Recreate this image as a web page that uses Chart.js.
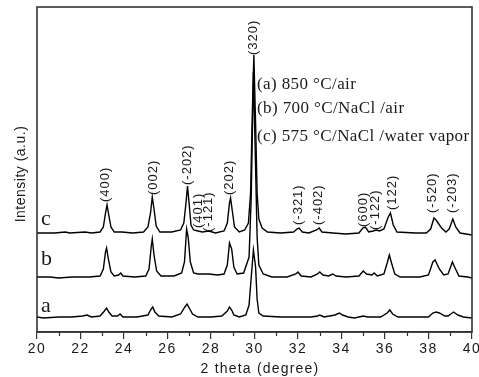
<!DOCTYPE html>
<html>
<head>
<meta charset="utf-8">
<script src="https://cdn.jsdelivr.net/npm/chart.js@4.4.0/dist/chart.umd.min.js"></script>
<style>
  html, body { margin: 0; padding: 0; background: #fff; }
</style>
</head>
<body>
<canvas id="xrd" width="479" height="377"></canvas>
<script>
// XRD patterns, 2 theta (degree) vs intensity (a.u.) above each baseline
const thetaC = [20.0, 20.8, 21.3, 21.5, 22.2, 22.5, 22.9, 23.05, 23.15, 23.22, 23.3, 23.4, 23.55, 23.9, 24.4, 24.9, 25.1, 25.22, 25.3, 25.38, 25.48, 25.65, 26.2, 26.6, 26.75, 26.85, 26.92, 27.0, 27.08, 27.2, 27.4, 27.6, 27.9, 28.2, 28.6, 28.75, 28.85, 28.9, 28.98, 29.08, 29.3, 29.55, 29.72, 29.82, 29.9, 29.97, 30.05, 30.12, 30.2, 30.35, 30.6, 31.2, 31.8, 31.95, 32.05, 32.2, 32.5, 32.85, 32.97, 33.1, 33.6, 34.2, 34.8, 34.98, 35.1, 35.25, 35.45, 35.6, 35.75, 35.95, 36.15, 36.25, 36.38, 36.55, 37.4, 37.9, 38.1, 38.25, 38.35, 38.6, 38.8, 38.95, 39.12, 39.25, 39.45, 40.0];
const intC = [0, 0, 1, 0, 1, 0, 1, 6, 20, 28, 18, 6, 1, 1, 0, 1, 6, 20, 36, 24, 7, 1, 1, 3, 10, 30, 47, 28, 8, 3, 2, 1, 2, 0, 2, 10, 30, 35, 22, 6, 1, 3, 10, 40, 120, 178, 110, 40, 14, 5, 1, 0, 1, 4, 5, 1, 0, 3, 5, 1, 0, -1, 0, 5, 6, 1, 2, 3, 2, 4, 16, 20, 8, 1, 0, 0, 4, 15, 13, 5, 1, 4, 14, 6, 0, -2];

const thetaB = [20.0, 20.6, 21.0, 21.6, 22.4, 22.9, 23.05, 23.15, 23.2, 23.28, 23.4, 23.55, 23.75, 23.85, 23.95, 24.5, 25.0, 25.15, 25.25, 25.3, 25.38, 25.5, 25.7, 26.3, 26.65, 26.78, 26.88, 26.95, 27.05, 27.2, 27.4, 27.6, 27.9, 28.3, 28.6, 28.75, 28.85, 28.95, 29.05, 29.2, 29.5, 29.75, 29.85, 29.95, 30.05, 30.12, 30.2, 30.4, 30.8, 31.5, 31.9, 32.0, 32.15, 32.6, 32.9, 33.0, 33.15, 33.4, 33.6, 33.75, 34.2, 34.8, 35.0, 35.15, 35.4, 35.5, 35.65, 35.95, 36.1, 36.2, 36.3, 36.45, 36.7, 37.6, 38.0, 38.2, 38.3, 38.5, 38.7, 38.9, 39.1, 39.2, 39.4, 39.8, 40.0];
const intB = [0, 0, -1, 0, 0, 1, 8, 25, 29, 18, 5, 1, 2, 4, 1, 0, 1, 8, 30, 38, 22, 6, 1, 1, 4, 15, 48, 40, 15, 4, 3, 3, 3, 2, 3, 12, 34, 28, 10, 3, 4, 20, 80, 205, 110, 40, 12, 3, 0, 0, 3, 5, 1, 0, 3, 5, 2, 1, 3, 1, 0, 1, 6, 3, 2, 4, 1, 3, 14, 22, 14, 3, 0, 0, 2, 15, 17, 8, 2, 3, 15, 10, 1, 0, -1];

const thetaA = [20.0, 20.3, 21.0, 21.6, 22.1, 22.3, 22.5, 22.9, 23.1, 23.2, 23.3, 23.45, 23.7, 23.82, 23.95, 24.6, 25.1, 25.22, 25.32, 25.42, 25.6, 26.2, 26.6, 26.8, 26.9, 27.0, 27.15, 27.4, 28.0, 28.5, 28.75, 28.85, 28.95, 29.05, 29.3, 29.6, 29.75, 29.85, 29.95, 30.05, 30.12, 30.2, 30.4, 31.2, 31.9, 32.6, 32.9, 33.0, 33.2, 33.7, 33.9, 34.05, 34.3, 34.6, 35.0, 35.2, 35.8, 36.1, 36.22, 36.35, 36.6, 37.5, 38.0, 38.2, 38.35, 38.5, 38.75, 38.9, 39.15, 39.35, 39.6, 40.0];
const intA = [0, -1, 0, 0, 1, 2, 0, 1, 6, 9, 5, 1, 1, 3, 0, 0, 2, 7, 10, 5, 1, 0, 3, 10, 13, 9, 3, 0, 0, 1, 6, 10, 7, 2, 0, 2, 12, 40, 67, 50, 18, 4, 1, 0, 0, 0, 1, 2, 0, 2, 4, 2, 0, -1, 1, 0, 0, 4, 7, 3, 0, 0, 0, 4, 5, 4, 1, 1, 5, 2, 0, -1];

// vertical offsets of the stacked patterns
const offsetA = 15, offsetB = 55, offsetC = 99;

const curveNames = ['a', 'b', 'c'];
const curveNameY = [312, 265, 225];

const legendLines = ['(a) 850 \u00B0C/air', '(b) 700 \u00B0C/NaCl /air', '(c) 575 \u00B0C/NaCl /water vapor'];

const hklLabels = ['(400)', '(002)', '(-202)', '(401)', '(-121)', '(202)', '(320)', '(-321)', '(-402)', '(600)', '(-122)', '(122)', '(-520)', '(-203)'];
const hklTheta = [23.15, 25.33, 26.9, 27.42, 27.9, 28.83, 29.93, 32.0, 32.92, 35.0, 35.55, 36.35, 38.17, 39.12];
const hklBase = [130, 137, 147, 104, 100, 137, 277, 107, 107, 105, 102, 122, 119, 119];

const xMajor = [20, 22, 24, 26, 28, 30, 32, 34, 36, 38, 40];
const xMinor = [21, 23, 25, 27, 29, 31, 33, 35, 37, 39];

function toPoints(xs, ys, off) {
  return xs.map((x, i) => ({ x: x, y: ys[i] + off }));
}

const decor = {
  id: 'decor',
  beforeDraw(chart) {
    chart.ctx.letterSpacing = '1.5px';
  },
  afterDraw(chart) {
    const ctx = chart.ctx;
    const xs = chart.scales.x, ys = chart.scales.y;
    const a = chart.chartArea;
    ctx.save();
    ctx.letterSpacing = '0px';
    // frame
    ctx.strokeStyle = '#333';
    ctx.lineWidth = 1.6;
    ctx.strokeRect(a.left, a.top, a.right - a.left, a.bottom - a.top);
    // minor ticks
    ctx.lineWidth = 1.2;
    xMinor.forEach(v => {
      const px = Math.round(xs.getPixelForValue(v)) + 0.5;
      ctx.beginPath();
      ctx.moveTo(px, a.bottom);
      ctx.lineTo(px, a.bottom + 4);
      ctx.stroke();
    });
    // hkl labels
    ctx.fillStyle = '#1a1a1a';
    ctx.font = '13px "Liberation Sans", Arial, sans-serif';
    ctx.letterSpacing = '1px';
    ctx.textAlign = 'left';
    ctx.textBaseline = 'middle';
    hklLabels.forEach((t, i) => {
      ctx.save();
      ctx.translate(xs.getPixelForValue(hklTheta[i]), ys.getPixelForValue(hklBase[i]));
      ctx.rotate(-Math.PI / 2);
      ctx.fillText(t, 0, 0);
      ctx.restore();
    });
    // curve names
    ctx.letterSpacing = '0px';
    ctx.font = '22px "Liberation Serif", "Times New Roman", serif';
    ctx.textBaseline = 'alphabetic';
    curveNames.forEach((t, i) => ctx.fillText(t, 41, curveNameY[i]));
    // legend text
    ctx.font = '17px "Liberation Serif", "Times New Roman", serif';
    ctx.letterSpacing = '0.4px';
    legendLines.forEach((t, i) => ctx.fillText(t, 257, [89, 113, 141][i]));
    // axis titles
    ctx.font = '14px "Liberation Sans", Arial, sans-serif';
    ctx.letterSpacing = '1.2px';
    ctx.textAlign = 'center';
    ctx.textBaseline = 'middle';
    ctx.fillText('2 theta (degree)', 260, 369);
    ctx.letterSpacing = '0.5px';
    ctx.save();
    ctx.translate(21, 174);
    ctx.rotate(-Math.PI / 2);
    ctx.fillText('Intensity (a.u.)', 0, 0);
    ctx.restore();
    ctx.restore();
  }
};

new Chart(document.getElementById('xrd'), {
  type: 'line',
  data: {
    datasets: [
      { label: 'a', data: toPoints(thetaA, intA, offsetA) },
      { label: 'b', data: toPoints(thetaB, intB, offsetB) },
      { label: 'c', data: toPoints(thetaC, intC, offsetC) }
    ]
  },
  options: {
    responsive: false,
    animation: false,
    layout: { padding: { left: 37, right: 7, top: 7, bottom: 0 } },
    elements: {
      point: { radius: 0 },
      line: { tension: 0, borderWidth: 1.4, borderColor: '#000', fill: false }
    },
    plugins: { legend: { display: false }, tooltip: { enabled: false } },
    scales: {
      x: {
        type: 'linear', min: 20, max: 40,
        afterBuildTicks: s => { s.ticks = xMajor.map(v => ({ value: v })); },
        ticks: { color: '#1a1a1a', font: { family: 'Liberation Sans', size: 14 }, padding: 2, maxRotation: 0, autoSkip: false },
        grid: { drawOnChartArea: false, drawTicks: true, tickLength: 7, color: '#333', lineWidth: 1.2 },
        border: { display: true, color: '#333', width: 1.6 },
        afterFit: s => { s.height = 45; s.paddingLeft = 0; s.paddingRight = 0; }
      },
      y: { display: false, min: 0, max: 325 }
    }
  },
  plugins: [decor]
});
</script>
</body>
</html>
